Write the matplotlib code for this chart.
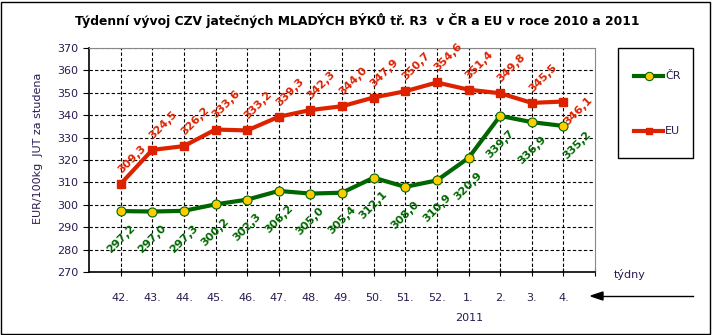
import matplotlib.pyplot as plt
from matplotlib.patches import Rectangle

# data
tydny = ['42.', '43.', '44.', '45.', '46.', '47.', '48.', '49.', '50.', '51.', '52.', '1.', '2.', '3.', '4.']
cr = [297.2, 297.0, 297.3, 300.2, 302.3, 306.2, 305.0, 305.4, 312.1, 308.0, 310.9, 320.9, 339.7, 336.9, 335.2]
eu = [309.3, 324.5, 326.2, 333.6, 333.2, 339.3, 342.3, 344.0, 347.9, 350.7, 354.6, 351.4, 349.8, 345.5, 346.1]

zelena = '#006600'
cervena = '#dd2200'
popis = '#2a1a50'

W, H = 712, 335
fig = plt.figure(figsize=(W / 100, H / 100), dpi=100)
ax = fig.add_axes([89/W, 1 - 272/H, 506/W, 224/H])

x = list(range(len(tydny)))
ax.plot(x, eu, color=cervena, lw=3, marker='s', ms=6, mfc=cervena, mec=cervena, zorder=3)
ax.plot(x, cr, color=zelena, lw=3, marker='o', ms=6.5, mfc='#ffcc00', mec=zelena, mew=0.8, zorder=4)

# popisky hodnot
for i, v in enumerate(cr):
    dx, dy = 0, -20
    if i == len(cr) - 1:
        dx, dy = 10, -14
    ax.annotate(f'{v:.1f}'.replace('.', ','), (i, v), xytext=(dx, dy), textcoords='offset points',
                rotation=45, ha='center', va='center', color=zelena, fontsize=8, fontweight='bold')
for i, v in enumerate(eu):
    dx, dy = 8, 18
    if i == len(eu) - 1:
        dx, dy = 11, -7
    ax.annotate(f'{v:.1f}'.replace('.', ','), (i, v), xytext=(dx, dy), textcoords='offset points',
                rotation=45, ha='center', va='center', color=cervena, fontsize=8, fontweight='bold',
                annotation_clip=False)

ax.set_xlim(-1, 15)
ax.set_ylim(270, 370)
ax.set_yticks(range(270, 371, 10))
ax.set_xticks(range(0, 16))
ax.set_xticklabels(tydny + [''])
ax.tick_params(axis='x', direction='inout', length=6, pad=12, labelsize=8, labelcolor=popis)
ax.tick_params(axis='y', direction='out', length=4, labelsize=8, labelcolor=popis)

for yy in range(280, 371, 10):
    ax.axhline(yy, color='black', lw=0.8, ls=(0, (3, 2)), zorder=1)
for xx in x:
    ax.axvline(xx, color='black', lw=0.8, ls=(0, (3, 2)), zorder=1)

ax.spines['top'].set_color('#888888')
ax.spines['right'].set_color('#888888')
ax.spines['left'].set_linewidth(1.2)
ax.spines['bottom'].set_linewidth(1.2)

ax.set_ylabel('EUR/100kg  JUT za studena', fontsize=8, color=popis)
ax.yaxis.set_label_coords(-0.09, 0.553)

fig.text(357/W, 1 - 20/H, 'Týdenní vývoj CZV jatečných MLADÝCH BÝKŮ tř. R3  v ČR a EU v roce 2010 a 2011',
         ha='center', va='center', fontsize=8.9, fontweight='bold', color='black')
fig.text(630/W, 1 - 274/H, 'týdny', ha='center', va='center', fontsize=8, color=popis)
fig.text(469/W, 1 - 318/H, '2011', ha='center', va='center', fontsize=8, color=popis)
fig.add_artist(plt.Line2D([600/W, 693/W], [1 - 296/H, 1 - 296/H], color='black', lw=1))
fig.patches.append(plt.Polygon([[591/W, 1 - 296/H], [603/W, 1 - 292/H], [603/W, 1 - 300/H]],
                               closed=True, color='black', transform=fig.transFigure))

# legenda
fig.patches.append(Rectangle((618/W, 1 - 158/H), 75/W, 110/H, fill=False, ec='black', lw=1,
                             transform=fig.transFigure))
fig.add_artist(plt.Line2D([634/W, 663/W], [1 - 76/H] * 2, color=zelena, lw=3))
fig.add_artist(plt.Line2D([648.5/W], [1 - 76/H], marker='o', ms=6, mfc='#ffcc00', mec=zelena, mew=0.8))
fig.text(665/W, 1 - 76/H, 'ČR', ha='left', va='center', fontsize=8, color=popis)
fig.add_artist(plt.Line2D([634/W, 663/W], [1 - 131/H] * 2, color=cervena, lw=3))
fig.add_artist(plt.Line2D([648.5/W], [1 - 131/H], marker='s', ms=5, mfc=cervena, mec=cervena))
fig.text(665/W, 1 - 131/H, 'EU', ha='left', va='center', fontsize=8, color=popis)

fig.patches.append(Rectangle((1/W, 1/H), 709/W, 332/H, fill=False, ec='black', lw=1,
                             transform=fig.transFigure))

fig.savefig('out.png', dpi=100)
